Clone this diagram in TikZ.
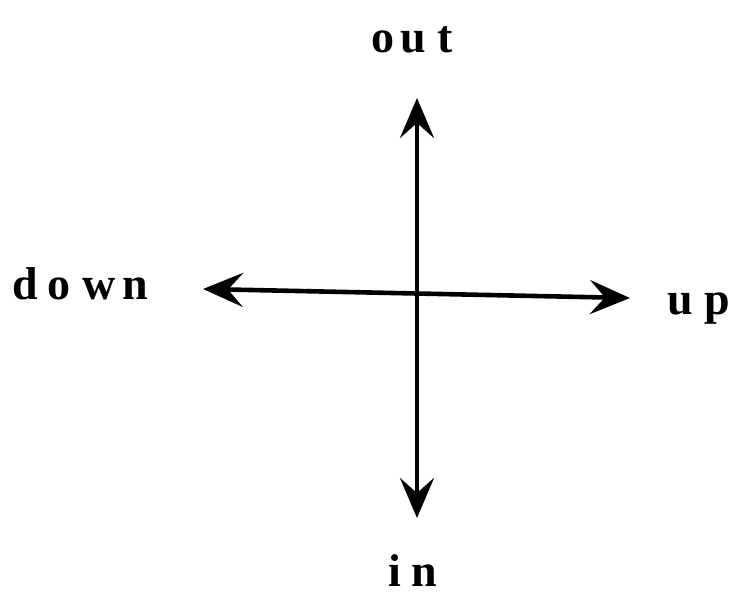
\documentclass[tikz,border=0pt]{standalone}
\usepackage{fontspec}
\setmainfont{Liberation Serif}
\usetikzlibrary{arrows.meta}
\begin{document}
\begin{tikzpicture}[x=1pt,y=-1pt,
  lbl/.style={inner sep=0pt,font=\fontsize{46}{52}\selectfont\bfseries},
  axis/.style={line width=4.6pt,line cap=round,
    >={Stealth[length=40pt,width=34pt,inset=15pt]},<->}]
\useasboundingbox (0,0) rectangle (743,601);
\coordinate (top) at (417,98);
\coordinate (bot) at (417,518);
\coordinate (left) at (203,289);
\coordinate (right) at (630,298);
\draw[axis] (top) -- (bot);
\draw[axis] (left) -- (right);
\node[lbl,anchor=base] (out) at (412,53) {o\hspace{6pt}u\hspace{11pt}t};
\node[lbl,anchor=base] (in) at (413,586) {i\hspace{10pt}n};
\node[lbl,anchor=base] (down) at (80,299) {d\hspace{10pt}o\hspace{12pt}w\hspace{6pt}n};
\node[lbl,anchor=base] (up) at (699,314) {u\hspace{12pt}p};
\end{tikzpicture}
\end{document}
